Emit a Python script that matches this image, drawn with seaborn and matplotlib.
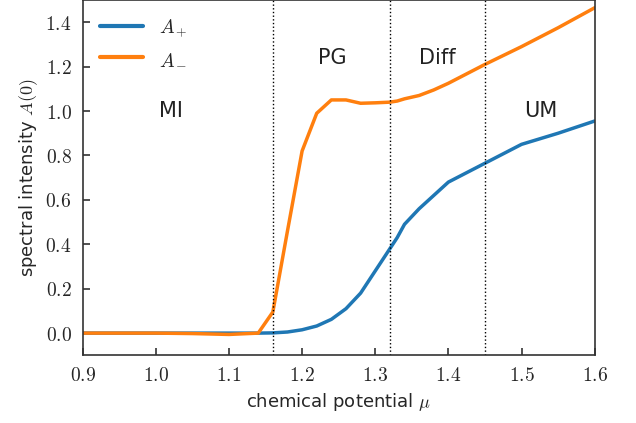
import numpy as np
import pandas as pd
import matplotlib
matplotlib.use("Agg")
import matplotlib.pyplot as plt
import seaborn as sns

mu = [0.90, 0.95, 1.00, 1.05, 1.10, 1.14, 1.16, 1.18, 1.20, 1.22, 1.24, 1.26, 1.28,
      1.30, 1.32, 1.33, 1.34, 1.36, 1.38, 1.40, 1.45, 1.50, 1.55, 1.60]
a_plus = [0.0, 0.0, 0.0, 0.0, 0.0, 0.0, 0.001, 0.005, 0.015, 0.032, 0.062, 0.11, 0.18,
          0.28, 0.38, 0.43, 0.49, 0.56, 0.62, 0.68, 0.765, 0.85, 0.90, 0.955]
a_minus = [0.0, 0.0, 0.0, -0.002, -0.006, 0.0, 0.095, 0.46, 0.82, 0.99, 1.05, 1.05, 1.035,
           1.037, 1.04, 1.045, 1.055, 1.07, 1.095, 1.125, 1.21, 1.29, 1.375, 1.465]
series_names = [r"$A_+$", r"$A_-$"]
boundaries = [1.16, 1.32, 1.45]
regions = ["MI", "PG", "Diff", "UM"]
region_pos = [(1.02, 1.0), (1.241, 1.24), (1.385, 1.24), (1.526, 1.0)]
xticks = [0.9, 1.0, 1.1, 1.2, 1.3, 1.4, 1.5, 1.6]
yticks = [0.0, 0.2, 0.4, 0.6, 0.8, 1.0, 1.2, 1.4]

sns.set_theme(style="white")
plt.rcParams['font.family'] = ['DejaVu Sans']
plt.rcParams['mathtext.fontset'] = 'cm'

df = pd.DataFrame({
    "mu": mu * 2,
    "A": a_plus + a_minus,
    "series": [series_names[0]] * len(mu) + [series_names[1]] * len(mu),
})

fig, ax = plt.subplots(figsize=(6.36, 4.23), dpi=100)
sns.lineplot(data=df, x="mu", y="A", hue="series", ax=ax, linewidth=2.5,
             palette=["#1f77b4", "#ff7f0e"], sort=False)

for b in boundaries:
    ax.axvline(b, color="black", linestyle=":", linewidth=1.0)
for name, (x, y) in zip(regions, region_pos):
    ax.text(x, y, name, fontsize=15, ha="center", va="center", color="#222222")

ax.set_xlim(0.9, 1.6)
ax.set_ylim(-0.1, 1.5)
ax.set_xticks(xticks)
ax.set_xticklabels([f"${t:.1f}$" for t in xticks], fontsize=14)
ax.set_yticks(yticks)
ax.set_yticklabels([f"${t:.1f}$" for t in yticks], fontsize=14)
ax.tick_params(direction="in", length=5, width=1.2, color="#333333", pad=8,
               left=True, bottom=True)
for s in ax.spines.values():
    s.set_color("#333333")
    s.set_linewidth(1.2)
ax.set_xlabel(r"chemical potential $\mu$", fontsize=13)
ax.set_ylabel(r"spectral intensity $A(0)$", fontsize=13)

leg = ax.legend(loc="upper left", frameon=False, fontsize=14, handlelength=2.2)
for line in leg.get_lines():
    line.set_linewidth(3)

fig.subplots_adjust(left=0.13, right=0.935, bottom=0.16, top=1.0)
fig.savefig("out.png", dpi=100)
